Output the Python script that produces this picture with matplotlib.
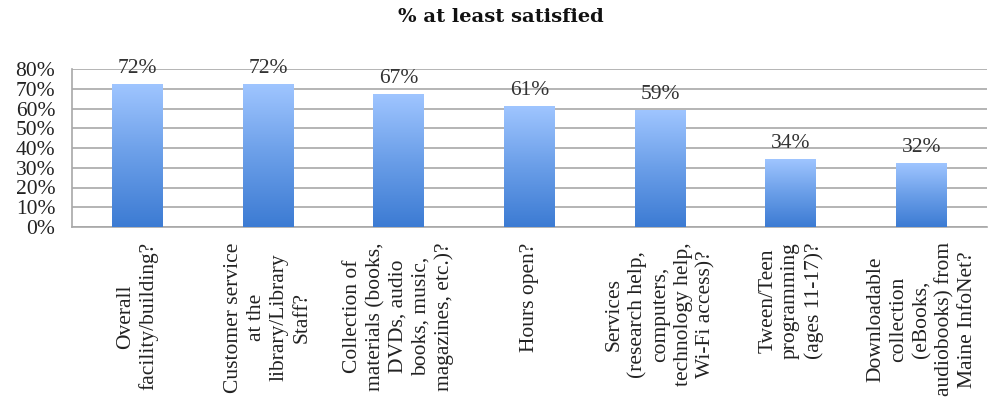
import numpy as np
import matplotlib.pyplot as plt
from matplotlib.colors import LinearSegmentedColormap

#%% Data
categories = [
    "Overall\nfacility/building?",
    "Customer service\nat the\nlibrary/Library\nStaff?",
    "Collection of\nmaterials (books,\nDVDs, audio\nbooks, music,\nmagazines, etc.)?",
    "Hours open?",
    "Services\n(research help,\ncomputers,\ntechnology help,\nWi-Fi access)?",
    "Tween/Teen\nprogramming\n(ages 11-17)?",
    "Downloadable\ncollection\n(eBooks,\naudiobooks) from\nMaine InfoNet?",
]
values = [72, 72, 67, 61, 59, 34, 32]
y_ticks = [0, 10, 20, 30, 40, 50, 60, 70, 80]

SERIF = 'Liberation Serif'

#%% Figure
plt.rcParams['font.family'] = 'serif'
plt.rcParams['font.serif'] = [SERIF]
fig = plt.figure(figsize=(9.89, 4.0), dpi=100)
ax = fig.add_axes([0.0728, 0.4325, 0.9252, 0.395])

x = np.arange(len(values))
bars = ax.bar(x, values, width=0.39, color='none', edgecolor='none', zorder=3)

# vertical gradient inside each bar
cmap = LinearSegmentedColormap.from_list('blu', ['#3c7bd3', '#6a9ee8', '#9fc5ff'])
grad = np.linspace(0, 1, 256).reshape(-1, 1)
for b in bars:
    x0, w, h = b.get_x(), b.get_width(), b.get_height()
    ax.imshow(grad, cmap=cmap, origin='lower', aspect='auto',
              extent=(x0, x0 + w, 0, h), zorder=3)

for xi, v in zip(x, values):
    ax.annotate(f"{v}%", (xi, v), xytext=(0, 5), textcoords='offset points',
                ha='center', va='bottom', fontsize=15.5, color='#333333',
                family=SERIF)

ax.set_xlim(-0.5, len(values) - 0.5)
ax.set_ylim(0, 80)
ax.set_yticks(y_ticks)
ax.set_yticklabels([f"{t}%" for t in y_ticks], fontsize=15.5, color='#222222',
                   family=SERIF)
ax.yaxis.grid(True, color='#a8a8a8', lw=1.2, zorder=0)
ax.set_axisbelow(True)

ax.set_xticks(x)
ax.set_xticklabels(categories, rotation=90, fontsize=15.5, color='#222222',
                   va='top', ha='center', multialignment='center', linespacing=1.27,
                   family=SERIF)
ax.tick_params(axis='both', length=0)
ax.tick_params(axis='y', pad=12)
ax.tick_params(axis='x', pad=11)

for s in ['top', 'right']:
    ax.spines[s].set_visible(False)
for s in ['left', 'bottom']:
    ax.spines[s].set_color('#a8a8a8')
    ax.spines[s].set_linewidth(1.2)

fig.text(0.506, 0.957, "% at least satisfied", ha='center', va='center',
         fontsize=14, fontweight='bold', color='#111111', family='DejaVu Serif')

fig.savefig('out.png', dpi=100)
